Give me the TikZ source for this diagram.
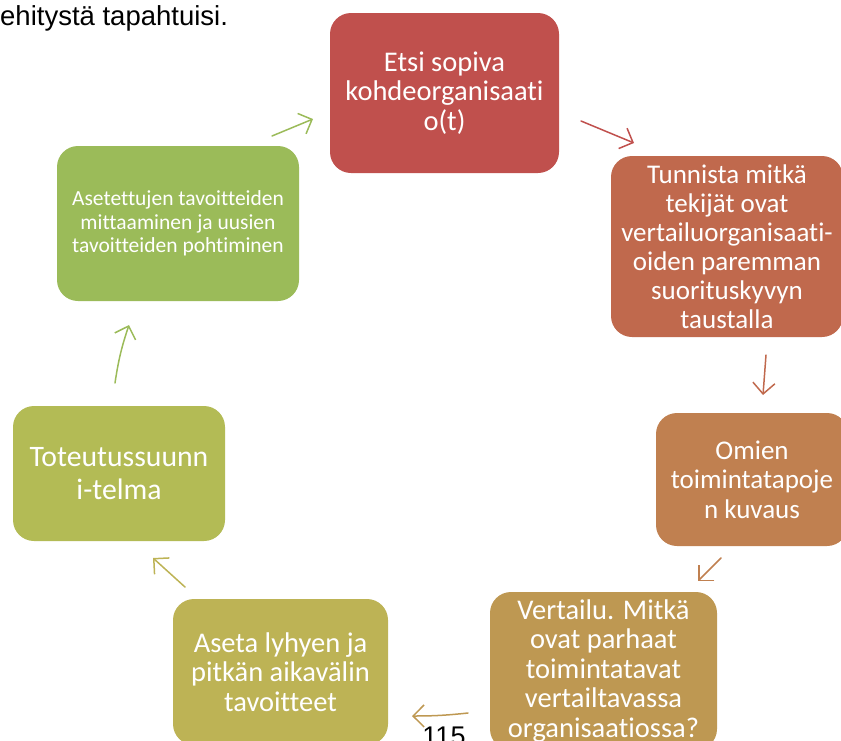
\documentclass[tikz,border=0pt]{standalone}
\usepackage{fontspec}
\setmainfont{Carlito}[Ligatures={NoCommon}]
\newfontfamily\arialfont{Liberation Sans}
\usetikzlibrary{arrows.meta}

\definecolor{cRed}{HTML}{C0504D}
\definecolor{cRust}{HTML}{C0694D}
\definecolor{cOrange}{HTML}{C08050}
\definecolor{cGold}{HTML}{BE9852}
\definecolor{cOlive}{HTML}{BDB355}
\definecolor{cLime}{HTML}{B3BB55}
\definecolor{cGreen}{HTML}{9BBB59}

\tikzset{
  stepbox/.style={rounded corners=21pt, draw=none, text=white, align=center,
    inner sep=0pt, font=\fontsize{28.5}{29.5}\selectfont},
  flow/.style={line width=1.5pt, line cap=round,
    -{Straight Barb[length=11pt,width=22pt,line width=1.5pt]}},
}

\begin{document}
\begin{tikzpicture}[x=1pt,y=-1pt]
  \clip (0,0) rectangle (841,740);
  \useasboundingbox (0,0) rectangle (841,740);

  % trailing line of the preceding paragraph and the page number
  \node[anchor=base west, inner sep=0pt, font=\arialfont\fontsize{27.5}{30}\selectfont] (para) at (0,25) {ehitystä tapahtuisi.};
  \node[anchor=base, inner sep=0pt, font=\arialfont\fontsize{27}{30}\selectfont] (page) at (444,745) {115};

  % the seven steps of the cycle
  \node[stepbox, fill=cRed, minimum width=229pt, minimum height=160pt] (s1) at (444.5,93)
    {Etsi sopiva\\kohdeorganisaati\\o(t)};
  \node[stepbox, fill=cRust, minimum width=232pt, minimum height=181pt,
    font=\fontsize{27}{29}\selectfont] (s2) at (727,246.5)
    {Tunnista mitkä\\tekijät ovat\\vertailuorganisaati-\\oiden paremman\\suorituskyvyn\\taustalla};
  \node[stepbox, fill=cOrange, minimum width=192pt, minimum height=133pt,
    font=\fontsize{27}{29.5}\selectfont] (s3) at (752,479.5)
    {Omien\\toimintatapoje\\n kuvaus};
  \node[stepbox, fill=cGold, minimum width=227pt, minimum height=158pt] (s4) at (603.5,671)
    {Vertailu. Mitkä\\ovat parhaat\\toimintatavat\\vertailtavassa\\organisaatiossa?};
  \node[stepbox, fill=cOlive, minimum width=215pt, minimum height=146pt] (s5) at (280.5,672)
    {Aseta lyhyen ja\\pitkän aikavälin\\tavoitteet};
  \node[stepbox, fill=cLime, minimum width=212pt, minimum height=135pt,
    font=\fontsize{29.7}{33}\selectfont] (s6) at (119,473.5)
    {Toteutussuunn\\i-telma};
  \node[stepbox, fill=cGreen, minimum width=242pt, minimum height=155pt,
    font=\fontsize{21.5}{23.5}\selectfont] (s7) at (178,223.5)
    {Asetettujen tavoitteiden\\mittaaminen ja uusien\\tavoitteiden pohtiminen};

  % arrow end points between the steps
  \coordinate (a1s) at (581,121);  \coordinate (a1e) at (634,143);
  \coordinate (a2s) at (766,355);  \coordinate (a2e) at (763,395);
  \coordinate (a3s) at (721,558);  \coordinate (a3e) at (698,581);
  \coordinate (a4s) at (468,713);  \coordinate (a4e) at (412,716);
  \coordinate (a5s) at (185,587);  \coordinate (a5e) at (153,558);
  \coordinate (a6s) at (115,383);  \coordinate (a6e) at (129,325);
  \coordinate (a7s) at (272,136);  \coordinate (a7e) at (313,119);

  \draw[flow, cRed]    (a1s) -- (a1e);
  \draw[flow, cRust]   (a2s) -- (a2e);
  \draw[flow, cOrange] (a3s) -- (a3e);
  \draw[flow, cGold]   (a4s) to[bend left=3] (a4e);
  \draw[flow, cOlive]  (a5s) -- (a5e);
  \draw[flow, cGreen]  (a6s) to[bend left=5] (a6e);
  \draw[flow, cGreen]  (a7s) -- (a7e);
\end{tikzpicture}
\end{document}
